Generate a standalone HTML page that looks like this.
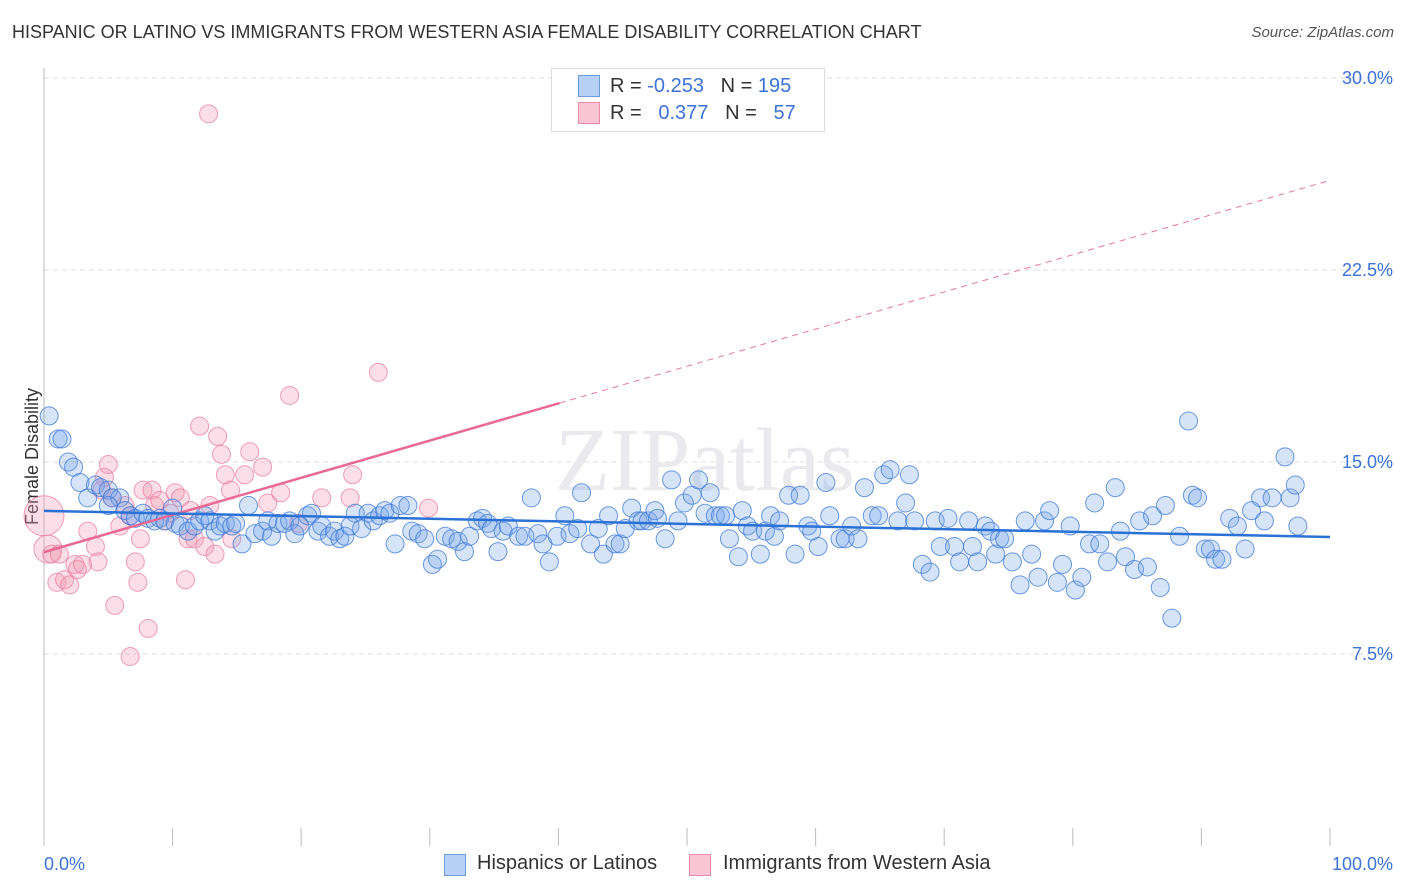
<!DOCTYPE html>
<html><head><meta charset="utf-8"><style>
body{margin:0;background:#fff;font-family:"Liberation Sans",sans-serif;}
#wrap{position:relative;width:1406px;height:892px;overflow:hidden;}
.t{position:absolute;white-space:nowrap;}
</style></head><body>
<div id="wrap">
<div class="t" style="left:12px;top:22px;font-size:18px;color:#333;">HISPANIC OR LATINO VS IMMIGRANTS FROM WESTERN ASIA FEMALE DISABILITY CORRELATION CHART</div>
<div class="t" style="right:12px;top:24px;font-size:15px;color:#555;font-style:italic;">Source: ZipAtlas.com</div>
<div class="t" style="left:-36px;top:446px;font-size:18px;color:#333;transform:rotate(-90deg);">Female Disability</div>
<svg id="svg" width="1406" height="892" style="position:absolute;left:0;top:0"></svg>
</div>
<script>
const yTicks=[7.5,15,22.5,30];
const yTickLabels=["7.5%","15.0%","22.5%","30.0%"];
const xTickLabels=["0.0%","100.0%"];
const blueX=[0.4,1.1,1.4,1.9,2.3,2.8,3.4,4.0,4.4,5.0,5.3,5.9,5.0,6.3,6.7,7.1,7.7,8.1,8.6,9.0,9.4,10.0,10.2,10.6,11.2,11.7,12.1,12.5,12.9,13.3,13.7,14.1,14.6,14.9,15.4,15.9,16.4,17.0,17.4,17.7,18.2,18.7,19.1,19.5,19.9,20.5,20.8,21.3,21.6,22.2,22.6,23.0,23.4,23.8,24.2,24.7,25.2,25.6,26.1,26.5,26.9,27.3,27.7,28.3,28.6,29.1,29.6,30.2,30.6,31.2,31.7,32.2,32.7,33.1,33.7,34.1,34.5,34.8,35.3,35.7,36.1,36.9,37.4,37.9,38.4,38.8,39.3,39.9,40.5,40.9,41.5,41.8,42.5,43.1,43.5,43.9,44.4,44.8,45.2,45.7,46.2,46.5,47.0,47.5,47.7,48.3,48.8,49.3,49.8,50.4,50.9,51.4,51.8,52.2,52.6,53.0,53.3,54.0,54.3,54.7,55.1,55.7,56.1,56.5,56.8,57.2,57.9,58.4,58.8,59.4,59.7,60.2,60.8,61.1,61.9,62.3,62.8,63.3,63.8,64.4,64.9,65.3,65.8,66.4,67.0,67.3,67.7,68.3,68.9,69.3,69.7,70.3,70.8,71.2,71.9,72.2,72.6,73.2,73.6,74.0,74.3,74.7,75.3,75.9,76.3,76.8,77.3,77.8,78.2,78.8,79.2,79.8,80.2,80.7,81.3,81.7,82.1,82.7,83.3,83.7,84.1,84.8,85.2,85.8,86.2,86.8,87.2,87.7,88.3,89.0,89.3,89.7,90.3,90.7,91.1,91.6,92.2,92.8,93.4,93.9,94.6,94.9,95.5,96.5,96.9,97.3,97.5];
const blueY=[16.8,15.9,15.9,15.0,14.8,14.2,13.6,14.1,14.0,13.9,13.6,13.6,13.3,13.1,12.9,12.8,13.0,12.8,12.7,12.8,12.7,13.2,12.6,12.5,12.3,12.5,12.7,12.9,12.7,12.3,12.5,12.6,12.5,12.6,11.8,13.3,12.2,12.3,12.7,12.1,12.6,12.6,12.7,12.2,12.5,12.9,13.0,12.3,12.5,12.1,12.3,12.0,12.1,12.5,13.0,12.4,13.0,12.7,12.9,13.1,13.0,11.8,13.3,13.3,12.3,12.2,12.0,11.0,11.2,12.1,12.0,11.9,11.5,12.1,12.7,12.8,12.6,12.4,11.5,12.3,12.5,12.1,12.1,13.6,12.2,11.8,11.1,12.1,12.9,12.2,12.4,13.8,11.8,12.4,11.4,12.9,11.8,11.8,12.4,13.2,12.7,12.7,12.7,13.1,12.8,12.0,14.3,12.7,13.4,13.7,14.3,13.0,13.8,12.9,12.9,12.9,12.0,11.3,13.1,12.5,12.3,11.4,12.3,12.9,12.1,12.7,13.7,11.4,13.7,12.5,12.3,11.7,14.2,12.9,12.0,12.0,12.5,12.0,14.0,12.9,12.9,14.5,14.7,12.7,13.4,14.5,12.7,11.0,10.7,12.7,11.7,12.8,11.7,11.1,12.7,11.7,11.1,12.5,12.3,11.4,12.0,12.0,11.1,10.2,12.7,11.4,10.5,12.7,13.1,10.3,11.0,12.5,10.0,10.5,11.8,13.4,11.8,11.1,14.0,12.3,11.3,10.8,12.7,10.9,12.9,10.1,13.3,8.9,12.1,16.6,13.7,13.6,11.6,11.6,11.2,11.2,12.8,12.5,11.6,13.1,13.6,12.7,13.6,15.2,13.6,14.1,12.5];
const pinkX=[0,0.3,0.6,1.0,1.2,1.6,2.0,2.4,2.6,3.0,3.4,4.0,4.2,4.5,4.7,5.0,5.3,5.5,5.9,6.3,6.7,7.1,7.3,7.5,7.7,8.1,8.4,8.6,9.0,9.4,9.8,10.2,10.6,11.0,11.2,11.4,11.7,12.1,12.5,12.8,12.9,13.3,13.5,13.8,14.1,14.5,14.6,15.6,16.0,17.0,17.4,18.4,19.1,19.8,21.6,23.8,24.0,26.0,29.9,6.7];
const pinkY=[12.9,11.6,11.4,10.3,11.4,10.4,10.2,11.0,10.8,11.0,12.3,11.7,11.1,13.9,14.4,14.9,13.6,9.4,12.5,13.3,12.9,11.1,10.3,12.0,13.9,8.5,13.9,13.3,13.5,12.7,13.0,13.8,13.6,10.4,12.0,13.1,12.0,16.4,11.7,28.6,13.3,11.4,16.0,15.3,14.5,13.9,12.0,14.5,15.4,14.8,13.4,13.8,17.6,12.6,13.6,13.6,14.5,18.5,13.2,7.4];
const blueTrend=[13.09,12.07];
const pinkTrend=[11.48,26.0];
const pinkSolidEnd=40.1;

const NS="http://www.w3.org/2000/svg";
const svg=document.getElementById('svg');
const X=v=>44+v*12.86, Y=v=>846-v*25.6;
function mk(tag,attrs){const e=document.createElementNS(NS,tag);for(const k in attrs)e.setAttribute(k,attrs[k]);svg.appendChild(e);return e;}
// gridlines
yTicks.forEach((t,i)=>{
  const g=mk('line',{x1:44,x2:1392,y1:Y(t),y2:Y(t),stroke:'#ddd','stroke-dasharray':'5,4'});
  
  
  const tx=mk('text',{x:1393,y:Y(t)+6,'text-anchor':'end','font-size':18,fill:'#3b73d9','font-family':'Liberation Sans'});
  tx.textContent=yTickLabels[i];
  
  
});
const ax=mk('line',{x1:44,x2:44,y1:68,y2:846,stroke:'#bbb'});


for(let i=0;i<=10;i++){
  const tk=mk('line',{x1:X(i*10),x2:X(i*10),y1:828,y2:846,stroke:'#bbb'});
  
  
}
[[0,'start',44],[1,'end',1393]].forEach(([i,a,x])=>{
  const t=mk('text',{x:x,y:870,'text-anchor':a,'font-size':18,fill:'#3b73d9','font-family':'Liberation Sans'});
  t.textContent=xTickLabels[i];
  
  
});
// watermark
const wm=mk('text',{x:705,y:490,'text-anchor':'middle','font-size':90,fill:'#e9e9ee','font-family':'Liberation Serif'});
wm.textContent='ZIPatlas';


// points
pinkX.forEach((v,i)=>{
  const r=i===0?20:(i===1?14:9);
  const c=mk('circle',{cx:X(v),cy:Y(pinkY[i]),r:r,fill:'rgba(244,160,185,0.35)',stroke:'rgba(232,120,155,0.7)','stroke-width':1});
  
  
});
blueX.forEach((v,i)=>{
  const c=mk('circle',{cx:X(v),cy:Y(blueY[i]),r:9,fill:'rgba(120,165,235,0.3)',stroke:'rgba(60,120,215,0.75)','stroke-width':1});
  
  
});
const pAt=x=>pinkTrend[0]+(pinkTrend[1]-pinkTrend[0])*x/100;
const pd=mk('line',{x1:X(pinkSolidEnd),y1:Y(pAt(pinkSolidEnd)),x2:X(100),y2:Y(pinkTrend[1]),stroke:'#e8789b','stroke-width':1,'stroke-dasharray':'6,5'});


const ps=mk('line',{x1:X(0),y1:Y(pinkTrend[0]),x2:X(pinkSolidEnd),y2:Y(pAt(pinkSolidEnd)),stroke:'#e86a94','stroke-width':2.5});


const bl=mk('line',{x1:X(0),y1:Y(blueTrend[0]),x2:X(100),y2:Y(blueTrend[1]),stroke:'#2a72d6','stroke-width':2.5});


</script>
<div style="position:absolute;left:551px;top:68px;width:272px;height:62px;border:1px solid #ddd;background:#fff;font-size:20px;">
  <div style="position:absolute;left:26px;top:6px;width:20px;height:20px;background:#b9d0f5;border:1px solid #6d9be0;"></div>
  <div class="t" style="left:58px;top:6px;color:#333;">R = <span style="color:#3b73d9">-0.253</span>&nbsp;&nbsp;&nbsp;N = <span style="color:#3b73d9">195</span></div>
  <div style="position:absolute;left:26px;top:33px;width:20px;height:20px;background:#f8c5d4;border:1px solid #e88aa8;"></div>
  <div class="t" style="left:58px;top:33px;color:#333;">R = &nbsp;&nbsp;<span style="color:#3b73d9">0.377</span>&nbsp;&nbsp;&nbsp;N = &nbsp;&nbsp;<span style="color:#3b73d9">57</span></div>
</div>
<div style="position:absolute;left:444px;top:852px;font-size:20px;color:#333;">
  <div style="position:absolute;left:0;top:2px;width:20px;height:20px;background:#b9d0f5;border:1px solid #6d9be0;"></div>
  <div class="t" style="left:33px;top:0;">Hispanics or Latinos</div>
  <div style="position:absolute;left:245px;top:2px;width:20px;height:20px;background:#f8c5d4;border:1px solid #e88aa8;"></div>
  <div class="t" style="left:279px;top:0;">Immigrants from Western Asia</div>
</div>
</body></html>
